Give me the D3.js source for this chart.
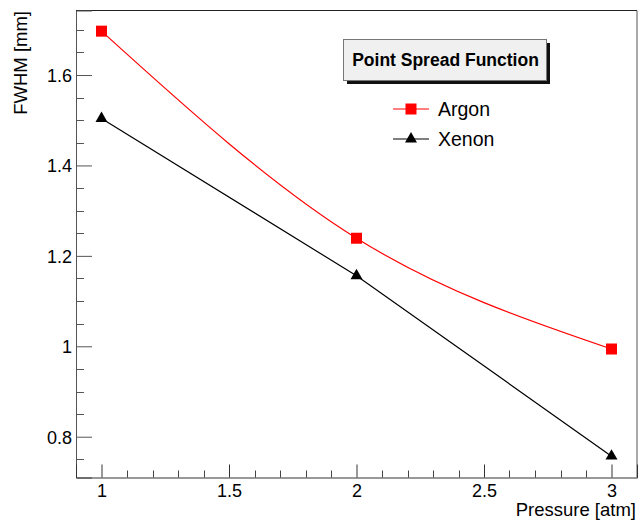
<!DOCTYPE html>
<html>
<head>
<meta charset="utf-8">
<script src="https://cdn.jsdelivr.net/npm/d3@7"></script>
<style>
  html, body { margin: 0; padding: 0; background: #fff; }
  svg { display: block; font-family: "Liberation Sans", Arial, Helvetica, sans-serif; }
</style>
</head>
<body>
<div id="chart"></div>
<script>
// values
const pressure = [1, 2, 3];
const argon = [1.697, 1.239, 0.994];
const xenon = [1.504, 1.156, 0.757];
const xTicks = [1, 1.5, 2, 2.5, 3];
const yTicks = [0.8, 1, 1.2, 1.4, 1.6];
const seriesNames = ["Argon", "Xenon"];
const seriesColors = ["#ff0000", "#000000"];

const width = 638;
const height = 522;
const marginLeft = 76;
const marginRight = 1;
const marginTop = 10.5;
const marginBottom = 44.5;

const x = d3.scaleLinear()
    .domain([0.9, 3.1])
    .range([marginLeft, width - marginRight]);

const y = d3.scaleLinear()
    .domain([0.7098, 1.7427])
    .range([height - marginBottom, marginTop]);

const svg = d3.select("#chart").append("svg")
    .attr("width", width)
    .attr("height", height);

// frame
const x0 = marginLeft, x1 = width - marginRight;
const y0 = height - marginBottom, y1 = marginTop;
svg.append("line").attr("x1", x0).attr("x2", x1).attr("y1", y1).attr("y2", y1).attr("stroke", "#222");
svg.append("line").attr("x1", x1).attr("x2", x1).attr("y1", y1).attr("y2", y0).attr("stroke", "#555");

// y axis: ticks drawn inward (to the right)
const yAxis = d3.axisRight(y)
    .tickValues(yTicks)
    .tickSize(16)
    .tickFormat(d3.format("~g"));

const gy = svg.append("g")
    .attr("transform", `translate(${x0},0)`)
    .call(yAxis)
    .attr("font-size", null)
    .attr("font-family", null);
gy.select(".domain").attr("stroke", "#555");
gy.selectAll(".tick line").attr("stroke", "#555");
gy.selectAll(".tick text")
    .attr("x", -4)
    .attr("dy", "0.36em")
    .attr("text-anchor", "end")
    .style("font-size", "18px")
    .attr("fill", "#000");

const yMinor = d3.range(0.75, 1.74, 0.05).filter(v => !yTicks.some(t => Math.abs(t - v) < 1e-6));
svg.append("g").selectAll("line")
    .data(yMinor)
    .join("line")
    .attr("x1", x0).attr("x2", x0 + 8)
    .attr("y1", d => Math.round(y(d)) + 0.5).attr("y2", d => Math.round(y(d)) + 0.5)
    .attr("stroke", "#555");

// x axis: ticks drawn upward
const xAxis = d3.axisTop(x)
    .tickValues(xTicks)
    .tickSize(13)
    .tickFormat(d3.format("~g"));

const gx = svg.append("g")
    .attr("transform", `translate(0,${y0})`)
    .call(xAxis)
    .attr("font-size", null)
    .attr("font-family", null);
gx.select(".domain").attr("stroke", "#333");
gx.selectAll(".tick line").attr("stroke", "#333");
gx.selectAll(".tick text")
    .attr("y", 19)
    .attr("dy", 0)
    .style("font-size", "18px")
    .attr("fill", "#000");

const xMinor = d3.range(1.1, 3.05, 0.1).filter(v => !xTicks.some(t => Math.abs(t - v) < 1e-6));
svg.append("g").selectAll("line")
    .data(xMinor)
    .join("line")
    .attr("x1", d => Math.round(x(d)) + 0.5).attr("x2", d => Math.round(x(d)) + 0.5)
    .attr("y1", y0).attr("y2", y0 - 7)
    .attr("stroke", "#444");

// axis titles
svg.append("text")
    .attr("x", x1 - 1)
    .attr("y", 516)
    .attr("text-anchor", "end")
    .style("font-size", "18.5px")
    .text("Pressure [atm]");

svg.append("text")
    .attr("transform", `translate(27,${y1 + 0.5}) rotate(-90)`)
    .attr("text-anchor", "end")
    .style("font-size", "18.5px")
    .text("FWHM [mm]");

// series
const argonData = pressure.map((p, i) => [p, argon[i]]);
const xenonData = pressure.map((p, i) => [p, xenon[i]]);

svg.append("path")
    .datum(argonData)
    .attr("fill", "none")
    .attr("stroke", seriesColors[0])
    .attr("stroke-width", 1.2)
    .attr("d", d3.line().x(d => x(d[0])).y(d => y(d[1])).curve(d3.curveNatural));

svg.append("path")
    .datum(xenonData)
    .attr("fill", "none")
    .attr("stroke", seriesColors[1])
    .attr("stroke-width", 1.2)
    .attr("d", d3.line().x(d => x(d[0])).y(d => y(d[1])));

const square = d3.symbol().type(d3.symbolSquare).size(121);
const triangle = d3.symbol().type(d3.symbolTriangle).size(62);

svg.append("g").selectAll("path")
    .data(argonData)
    .join("path")
    .attr("transform", d => `translate(${x(d[0])},${y(d[1])})`)
    .attr("d", square)
    .attr("fill", seriesColors[0]);

svg.append("g").selectAll("path")
    .data(xenonData)
    .join("path")
    .attr("transform", d => `translate(${x(d[0])},${y(d[1])})`)
    .attr("d", triangle)
    .attr("fill", seriesColors[1]);

// legend title box with shadow
const box = { x: 343, y: 39, w: 203, h: 41 };
svg.append("rect")
    .attr("x", box.x + 4).attr("y", box.y + 4)
    .attr("width", box.w).attr("height", box.h)
    .attr("fill", "#111");
svg.append("rect")
    .attr("x", box.x + 0.5).attr("y", box.y + 0.5)
    .attr("width", box.w).attr("height", box.h)
    .attr("fill", "#f0f0f0")
    .attr("stroke", "#777");
svg.append("text")
    .attr("x", box.x + box.w / 2 + 1)
    .attr("y", box.y + 27)
    .attr("text-anchor", "middle")
    .style("font-size", "17.5px")
    .attr("font-weight", "bold")
    .text("Point Spread Function");

// legend entries
const legendY = [109, 139];
const legend = svg.append("g")
    .selectAll("g")
    .data(seriesNames)
    .join("g")
    .attr("transform", (d, i) => `translate(411,${legendY[i]})`);

legend.append("line")
    .attr("x1", -18).attr("x2", 18)
    .attr("stroke", (d, i) => seriesColors[i])
    .attr("stroke-width", 1.2);

legend.append("path")
    .attr("d", (d, i) => i === 0 ? square() : triangle())
    .attr("fill", (d, i) => seriesColors[i]);

legend.append("text")
    .attr("x", 27)
    .attr("y", 7)
    .style("font-size", "19.5px")
    .text(d => d);
</script>
</body>
</html>
